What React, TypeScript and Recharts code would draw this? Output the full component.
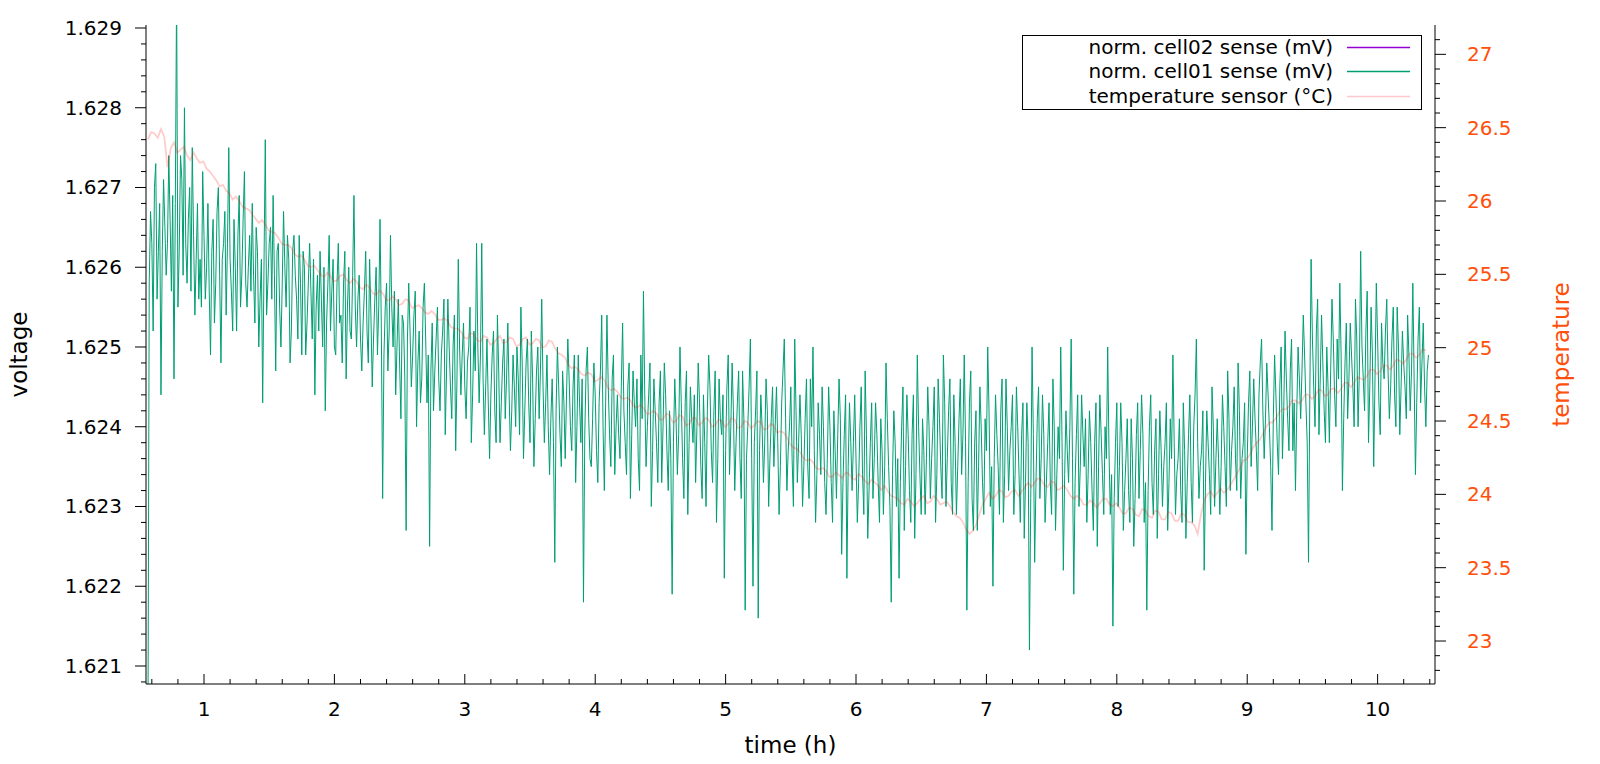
import React from 'react';
import { LineChart, Line, XAxis, YAxis, Legend } from 'recharts';

const FONT = '"DejaVu Sans", Verdana, sans-serif';
const ORANGE = '#ff4f0a';

const CELL02_NAME = 'norm. cell02 sense (mV)';
const CELL01_NAME = 'norm. cell01 sense (mV)';
const TEMP_NAME = 'temperature sensor (°C)';

// [time (h), voltage (V)]
const cell02: [number, number][] = [];

const cell01: [number, number][] = [
  [0.57,1.6200],[0.58,1.6258],[0.59,1.6267],[0.60,1.6263],[0.61,1.6252],[0.62,1.6270],[0.63,1.6273],[0.64,1.6256],[0.65,1.6262],[0.66,1.6268],[0.67,1.6244],[0.68,1.6262],[0.69,1.6271],[0.70,1.6265],[0.71,1.6259],[0.72,1.6263],[0.73,1.6274],[0.74,1.6266],[0.75,1.6257],[0.76,1.6269],
  [0.77,1.6246],[0.78,1.6268],[0.79,1.6295],[0.80,1.6255],[0.81,1.6262],[0.82,1.6274],[0.83,1.6271],[0.84,1.6259],[0.85,1.6280],[0.86,1.6263],[0.87,1.6258],[0.88,1.6266],[0.89,1.6270],[0.90,1.6257],[0.91,1.6275],[0.92,1.6264],[0.93,1.6254],[0.94,1.6261],[0.95,1.6268],[0.96,1.6256],
  [0.97,1.6261],[0.98,1.6255],[0.99,1.6272],[1.00,1.6264],[1.01,1.6256],[1.02,1.6260],[1.03,1.6268],[1.04,1.6257],[1.05,1.6249],[1.06,1.6262],[1.07,1.6266],[1.08,1.6253],[1.09,1.6258],[1.10,1.6267],[1.11,1.6270],[1.12,1.6259],[1.13,1.6248],[1.14,1.6261],[1.15,1.6263],[1.16,1.6267],
  [1.17,1.6254],[1.18,1.6263],[1.19,1.6275],[1.20,1.6261],[1.21,1.6257],[1.22,1.6252],[1.23,1.6266],[1.24,1.6260],[1.25,1.6252],[1.26,1.6264],[1.27,1.6269],[1.28,1.6255],[1.29,1.6259],[1.30,1.6266],[1.31,1.6272],[1.32,1.6258],[1.33,1.6255],[1.34,1.6260],[1.35,1.6264],[1.36,1.6257],
  [1.37,1.6268],[1.38,1.6259],[1.39,1.6253],[1.40,1.6265],[1.41,1.6262],[1.42,1.6250],[1.43,1.6256],[1.44,1.6261],[1.45,1.6243],[1.46,1.6260],[1.47,1.6276],[1.48,1.6254],[1.49,1.6258],[1.50,1.6263],[1.51,1.6265],[1.52,1.6256],[1.53,1.6269],[1.54,1.6259],[1.55,1.6247],[1.56,1.6262],
  [1.57,1.6263],[1.58,1.6255],[1.59,1.6250],[1.60,1.6258],[1.61,1.6267],[1.62,1.6260],[1.63,1.6255],[1.64,1.6264],[1.65,1.6261],[1.66,1.6248],[1.67,1.6252],[1.68,1.6262],[1.69,1.6264],[1.70,1.6259],[1.71,1.6256],[1.72,1.6251],[1.73,1.6264],[1.74,1.6258],[1.75,1.6249],[1.76,1.6262],
  [1.77,1.6260],[1.78,1.6249],[1.79,1.6253],[1.80,1.6258],[1.81,1.6263],[1.82,1.6257],[1.83,1.6251],[1.84,1.6261],[1.85,1.6244],[1.86,1.6255],[1.87,1.6259],[1.88,1.6252],[1.89,1.6262],[1.90,1.6256],[1.91,1.6250],[1.92,1.6260],[1.93,1.6242],[1.94,1.6253],[1.95,1.6258],[1.96,1.6264],
  [1.97,1.6252],[1.98,1.6257],[1.99,1.6261],[2.00,1.6250],[2.01,1.6249],[2.02,1.6258],[2.03,1.6263],[2.04,1.6253],[2.05,1.6254],[2.06,1.6248],[2.07,1.6258],[2.08,1.6262],[2.09,1.6246],[2.10,1.6255],[2.11,1.6260],[2.12,1.6252],[2.13,1.6251],[2.14,1.6259],[2.15,1.6269],[2.16,1.6255],
  [2.17,1.6250],[2.18,1.6256],[2.19,1.6259],[2.20,1.6251],[2.21,1.6247],[2.22,1.6253],[2.23,1.6257],[2.24,1.6262],[2.25,1.6252],[2.26,1.6248],[2.27,1.6261],[2.28,1.6254],[2.29,1.6245],[2.30,1.6251],[2.31,1.6256],[2.32,1.6260],[2.33,1.6249],[2.34,1.6255],[2.35,1.6266],[2.36,1.6252],
  [2.37,1.6231],[2.38,1.6249],[2.39,1.6255],[2.40,1.6258],[2.41,1.6247],[2.42,1.6252],[2.43,1.6264],[2.44,1.6255],[2.45,1.6250],[2.46,1.6257],[2.47,1.6244],[2.48,1.6250],[2.49,1.6256],[2.50,1.6248],[2.51,1.6241],[2.52,1.6254],[2.53,1.6253],[2.54,1.6246],[2.55,1.6227],[2.56,1.6251],
  [2.57,1.6258],[2.58,1.6252],[2.59,1.6245],[2.60,1.6249],[2.61,1.6254],[2.62,1.6257],[2.63,1.6240],[2.64,1.6248],[2.65,1.6252],[2.66,1.6243],[2.67,1.6246],[2.68,1.6255],[2.69,1.6258],[2.70,1.6251],[2.71,1.6243],[2.72,1.6249],[2.73,1.6225],[2.74,1.6247],[2.75,1.6253],[2.76,1.6242],
  [2.77,1.6247],[2.78,1.6251],[2.79,1.6255],[2.80,1.6246],[2.81,1.6242],[2.82,1.6249],[2.83,1.6252],[2.84,1.6256],[2.85,1.6239],[2.86,1.6247],[2.87,1.6256],[2.88,1.6250],[2.89,1.6245],[2.90,1.6241],[2.91,1.6250],[2.92,1.6254],[2.93,1.6237],[2.94,1.6246],[2.95,1.6261],[2.96,1.6250],
  [2.97,1.6244],[2.98,1.6249],[2.99,1.6253],[3.00,1.6245],[3.01,1.6241],[3.02,1.6248],[3.03,1.6250],[3.04,1.6255],[3.05,1.6238],[3.06,1.6244],[3.07,1.6252],[3.08,1.6247],[3.09,1.6263],[3.10,1.6250],[3.11,1.6243],[3.12,1.6249],[3.13,1.6263],[3.14,1.6246],[3.15,1.6239],[3.16,1.6245],
  [3.17,1.6251],[3.18,1.6243],[3.19,1.6236],[3.20,1.6244],[3.21,1.6249],[3.22,1.6252],[3.23,1.6242],[3.24,1.6238],[3.25,1.6254],[3.26,1.6247],[3.27,1.6238],[3.28,1.6243],[3.29,1.6248],[3.30,1.6251],[3.31,1.6241],[3.32,1.6246],[3.33,1.6253],[3.34,1.6244],[3.35,1.6237],[3.36,1.6242],
  [3.37,1.6249],[3.38,1.6245],[3.39,1.6240],[3.40,1.6250],[3.41,1.6246],[3.42,1.6239],[3.43,1.6255],[3.44,1.6248],[3.45,1.6236],[3.46,1.6242],[3.47,1.6248],[3.48,1.6251],[3.49,1.6243],[3.50,1.6238],[3.51,1.6252],[3.52,1.6246],[3.53,1.6235],[3.54,1.6241],[3.55,1.6247],[3.56,1.6250],
  [3.57,1.6241],[3.58,1.6247],[3.59,1.6256],[3.60,1.6245],[3.61,1.6238],[3.62,1.6243],[3.63,1.6249],[3.64,1.6240],[3.65,1.6234],[3.66,1.6241],[3.67,1.6246],[3.68,1.6238],[3.69,1.6223],[3.70,1.6242],[3.71,1.6250],[3.72,1.6245],[3.73,1.6239],[3.74,1.6235],[3.75,1.6247],[3.76,1.6243],
  [3.77,1.6236],[3.78,1.6244],[3.79,1.6251],[3.80,1.6246],[3.81,1.6240],[3.82,1.6237],[3.83,1.6245],[3.84,1.6249],[3.85,1.6233],[3.86,1.6240],[3.87,1.6249],[3.88,1.6243],[3.89,1.6238],[3.90,1.6246],[3.91,1.6218],[3.92,1.6239],[3.93,1.6247],[3.94,1.6250],[3.95,1.6241],[3.96,1.6236],
  [3.97,1.6235],[3.98,1.6241],[3.99,1.6248],[4.00,1.6244],[4.01,1.6237],[4.02,1.6233],[4.03,1.6243],[4.04,1.6247],[4.05,1.6254],[4.06,1.6240],[4.07,1.6232],[4.08,1.6243],[4.09,1.6254],[4.10,1.6245],[4.11,1.6239],[4.12,1.6235],[4.13,1.6246],[4.14,1.6249],[4.15,1.6234],[4.16,1.6240],
  [4.17,1.6244],[4.18,1.6239],[4.19,1.6236],[4.20,1.6245],[4.21,1.6253],[4.22,1.6242],[4.23,1.6238],[4.24,1.6234],[4.25,1.6245],[4.26,1.6248],[4.27,1.6231],[4.28,1.6239],[4.29,1.6247],[4.30,1.6243],[4.31,1.6240],[4.32,1.6246],[4.33,1.6236],[4.34,1.6232],[4.35,1.6249],[4.36,1.6241],
  [4.37,1.6257],[4.38,1.6244],[4.39,1.6235],[4.40,1.6240],[4.41,1.6244],[4.42,1.6248],[4.43,1.6230],[4.44,1.6237],[4.45,1.6246],[4.46,1.6242],[4.47,1.6238],[4.48,1.6233],[4.49,1.6243],[4.50,1.6247],[4.51,1.6233],[4.52,1.6240],[4.53,1.6248],[4.54,1.6244],[4.55,1.6237],[4.56,1.6232],
  [4.57,1.6242],[4.58,1.6236],[4.59,1.6219],[4.60,1.6238],[4.61,1.6246],[4.62,1.6241],[4.63,1.6234],[4.64,1.6239],[4.65,1.6250],[4.66,1.6243],[4.67,1.6236],[4.68,1.6231],[4.69,1.6243],[4.70,1.6247],[4.71,1.6229],[4.72,1.6238],[4.73,1.6245],[4.74,1.6241],[4.75,1.6238],[4.76,1.6244],
  [4.77,1.6233],[4.78,1.6240],[4.79,1.6248],[4.80,1.6243],[4.81,1.6235],[4.82,1.6231],[4.83,1.6244],[4.84,1.6238],[4.85,1.6230],[4.86,1.6242],[4.87,1.6249],[4.88,1.6245],[4.89,1.6237],[4.90,1.6233],[4.91,1.6242],[4.92,1.6247],[4.93,1.6228],[4.94,1.6236],[4.95,1.6246],[4.96,1.6241],
  [4.97,1.6239],[4.98,1.6244],[4.99,1.6221],[5.00,1.6237],[5.01,1.6245],[5.02,1.6249],[5.03,1.6234],[5.04,1.6240],[5.05,1.6248],[5.06,1.6242],[5.07,1.6232],[5.08,1.6238],[5.09,1.6243],[5.10,1.6247],[5.11,1.6236],[5.12,1.6231],[5.13,1.6247],[5.14,1.6241],[5.15,1.6217],[5.16,1.6236],
  [5.17,1.6240],[5.18,1.6245],[5.19,1.6251],[5.20,1.6236],[5.21,1.6220],[5.22,1.6238],[5.23,1.6242],[5.24,1.6247],[5.25,1.6216],[5.26,1.6237],[5.27,1.6244],[5.28,1.6240],[5.29,1.6233],[5.30,1.6238],[5.31,1.6246],[5.32,1.6242],[5.33,1.6230],[5.34,1.6236],[5.35,1.6241],[5.36,1.6245],
  [5.37,1.6235],[5.38,1.6240],[5.39,1.6245],[5.40,1.6238],[5.41,1.6229],[5.42,1.6235],[5.43,1.6243],[5.44,1.6247],[5.45,1.6251],[5.46,1.6241],[5.47,1.6232],[5.48,1.6237],[5.49,1.6240],[5.50,1.6245],[5.51,1.6236],[5.52,1.6230],[5.53,1.6251],[5.54,1.6242],[5.55,1.6233],[5.56,1.6238],
  [5.57,1.6244],[5.58,1.6239],[5.59,1.6230],[5.60,1.6235],[5.61,1.6241],[5.62,1.6246],[5.63,1.6235],[5.64,1.6231],[5.65,1.6246],[5.66,1.6240],[5.67,1.6250],[5.68,1.6237],[5.69,1.6228],[5.70,1.6234],[5.71,1.6243],[5.72,1.6239],[5.73,1.6234],[5.74,1.6245],[5.75,1.6240],[5.76,1.6233],
  [5.77,1.6229],[5.78,1.6236],[5.79,1.6245],[5.80,1.6240],[5.81,1.6233],[5.82,1.6228],[5.83,1.6242],[5.84,1.6237],[5.85,1.6231],[5.86,1.6239],[5.87,1.6246],[5.88,1.6241],[5.89,1.6224],[5.90,1.6233],[5.91,1.6239],[5.92,1.6244],[5.93,1.6221],[5.94,1.6235],[5.95,1.6243],[5.96,1.6238],
  [5.97,1.6232],[5.98,1.6238],[5.99,1.6244],[6.00,1.6236],[6.01,1.6228],[6.02,1.6233],[6.03,1.6240],[6.04,1.6245],[6.05,1.6234],[6.06,1.6229],[6.07,1.6247],[6.08,1.6239],[6.09,1.6226],[6.10,1.6232],[6.11,1.6238],[6.12,1.6243],[6.13,1.6231],[6.14,1.6236],[6.15,1.6243],[6.16,1.6239],
  [6.17,1.6233],[6.18,1.6228],[6.19,1.6241],[6.20,1.6237],[6.21,1.6229],[6.22,1.6235],[6.23,1.6248],[6.24,1.6241],[6.25,1.6235],[6.26,1.6230],[6.27,1.6218],[6.28,1.6234],[6.29,1.6242],[6.30,1.6238],[6.31,1.6230],[6.32,1.6236],[6.33,1.6221],[6.34,1.6233],[6.35,1.6240],[6.36,1.6245],
  [6.37,1.6227],[6.38,1.6235],[6.39,1.6244],[6.40,1.6239],[6.41,1.6232],[6.42,1.6228],[6.43,1.6239],[6.44,1.6244],[6.45,1.6226],[6.46,1.6234],[6.47,1.6249],[6.48,1.6240],[6.49,1.6234],[6.50,1.6229],[6.51,1.6241],[6.52,1.6237],[6.53,1.6229],[6.54,1.6236],[6.55,1.6245],[6.56,1.6240],
  [6.57,1.6231],[6.58,1.6236],[6.59,1.6240],[6.60,1.6245],[6.61,1.6228],[6.62,1.6234],[6.63,1.6246],[6.64,1.6241],[6.65,1.6235],[6.66,1.6231],[6.67,1.6249],[6.68,1.6243],[6.69,1.6230],[6.70,1.6236],[6.71,1.6242],[6.72,1.6246],[6.73,1.6233],[6.74,1.6229],[6.75,1.6244],[6.76,1.6238],
  [6.77,1.6229],[6.78,1.6235],[6.79,1.6241],[6.80,1.6246],[6.81,1.6234],[6.82,1.6239],[6.83,1.6249],[6.84,1.6238],[6.85,1.6217],[6.86,1.6233],[6.87,1.6243],[6.88,1.6247],[6.89,1.6231],[6.90,1.6227],[6.91,1.6238],[6.92,1.6242],[6.93,1.6227],[6.94,1.6235],[6.95,1.6245],[6.96,1.6240],
  [6.97,1.6233],[6.98,1.6229],[6.99,1.6241],[7.00,1.6237],[7.01,1.6250],[7.02,1.6242],[7.03,1.6230],[7.04,1.6235],[7.05,1.6220],[7.06,1.6236],[7.07,1.6244],[7.08,1.6239],[7.09,1.6235],[7.10,1.6229],[7.11,1.6242],[7.12,1.6246],[7.13,1.6228],[7.14,1.6234],[7.15,1.6246],[7.16,1.6240],
  [7.17,1.6232],[7.18,1.6237],[7.19,1.6240],[7.20,1.6244],[7.21,1.6229],[7.22,1.6234],[7.23,1.6245],[7.24,1.6240],[7.25,1.6234],[7.26,1.6228],[7.27,1.6239],[7.28,1.6243],[7.29,1.6226],[7.30,1.6233],[7.31,1.6243],[7.32,1.6238],[7.33,1.6212],[7.34,1.6231],[7.35,1.6250],[7.36,1.6239],
  [7.37,1.6223],[7.38,1.6233],[7.39,1.6241],[7.40,1.6245],[7.41,1.6231],[7.42,1.6236],[7.43,1.6244],[7.44,1.6239],[7.45,1.6228],[7.46,1.6233],[7.47,1.6238],[7.48,1.6243],[7.49,1.6233],[7.50,1.6229],[7.51,1.6246],[7.52,1.6240],[7.53,1.6227],[7.54,1.6234],[7.55,1.6240],[7.56,1.6236],
  [7.57,1.6250],[7.58,1.6238],[7.59,1.6222],[7.60,1.6234],[7.61,1.6242],[7.62,1.6237],[7.63,1.6233],[7.64,1.6240],[7.65,1.6251],[7.66,1.6236],[7.67,1.6219],[7.68,1.6233],[7.69,1.6239],[7.70,1.6244],[7.71,1.6230],[7.72,1.6235],[7.73,1.6244],[7.74,1.6239],[7.75,1.6235],[7.76,1.6241],
  [7.77,1.6228],[7.78,1.6234],[7.79,1.6242],[7.80,1.6238],[7.81,1.6232],[7.82,1.6227],[7.83,1.6238],[7.84,1.6243],[7.85,1.6225],[7.86,1.6235],[7.87,1.6244],[7.88,1.6239],[7.89,1.6234],[7.90,1.6229],[7.91,1.6240],[7.92,1.6236],[7.93,1.6250],[7.94,1.6237],[7.95,1.6229],[7.96,1.6234],
  [7.97,1.6215],[7.98,1.6231],[7.99,1.6238],[8.00,1.6243],[8.01,1.6230],[8.02,1.6235],[8.03,1.6243],[8.04,1.6238],[8.05,1.6227],[8.06,1.6232],[8.07,1.6236],[8.08,1.6241],[8.09,1.6232],[8.10,1.6228],[8.11,1.6241],[8.12,1.6236],[8.13,1.6225],[8.14,1.6231],[8.15,1.6239],[8.16,1.6243],
  [8.17,1.6231],[8.18,1.6237],[8.19,1.6244],[8.20,1.6239],[8.21,1.6228],[8.22,1.6233],[8.23,1.6217],[8.24,1.6232],[8.25,1.6240],[8.26,1.6244],[8.27,1.6233],[8.28,1.6229],[8.29,1.6237],[8.30,1.6241],[8.31,1.6226],[8.32,1.6234],[8.33,1.6242],[8.34,1.6237],[8.35,1.6230],[8.36,1.6235],
  [8.37,1.6238],[8.38,1.6243],[8.39,1.6227],[8.40,1.6233],[8.41,1.6241],[8.42,1.6236],[8.43,1.6249],[8.44,1.6238],[8.45,1.6229],[8.46,1.6234],[8.47,1.6236],[8.48,1.6241],[8.49,1.6232],[8.50,1.6228],[8.51,1.6243],[8.52,1.6237],[8.53,1.6226],[8.54,1.6233],[8.55,1.6239],[8.56,1.6244],
  [8.57,1.6233],[8.58,1.6228],[8.59,1.6240],[8.60,1.6244],[8.61,1.6251],[8.62,1.6238],[8.63,1.6231],[8.64,1.6235],[8.65,1.6237],[8.66,1.6242],[8.67,1.6222],[8.68,1.6233],[8.69,1.6242],[8.70,1.6238],[8.71,1.6234],[8.72,1.6229],[8.73,1.6245],[8.74,1.6240],[8.75,1.6230],[8.76,1.6236],
  [8.77,1.6241],[8.78,1.6236],[8.79,1.6229],[8.80,1.6235],[8.81,1.6244],[8.82,1.6240],[8.83,1.6235],[8.84,1.6230],[8.85,1.6247],[8.86,1.6241],[8.87,1.6232],[8.88,1.6237],[8.89,1.6240],[8.90,1.6245],[8.91,1.6236],[8.92,1.6232],[8.93,1.6248],[8.94,1.6242],[8.95,1.6231],[8.96,1.6236],
  [8.97,1.6238],[8.98,1.6243],[8.99,1.6224],[9.00,1.6236],[9.01,1.6243],[9.02,1.6247],[9.03,1.6235],[9.04,1.6240],[9.05,1.6246],[9.06,1.6241],[9.07,1.6237],[9.08,1.6232],[9.09,1.6244],[9.10,1.6248],[9.11,1.6251],[9.12,1.6242],[9.13,1.6236],[9.14,1.6241],[9.15,1.6248],[9.16,1.6244],
  [9.17,1.6240],[9.18,1.6235],[9.19,1.6227],[9.20,1.6241],[9.21,1.6249],[9.22,1.6244],[9.23,1.6238],[9.24,1.6234],[9.25,1.6245],[9.26,1.6250],[9.27,1.6236],[9.28,1.6242],[9.29,1.6252],[9.30,1.6246],[9.31,1.6241],[9.32,1.6237],[9.33,1.6247],[9.34,1.6251],[9.35,1.6237],[9.36,1.6243],
  [9.37,1.6232],[9.38,1.6242],[9.39,1.6250],[9.40,1.6246],[9.41,1.6241],[9.42,1.6247],[9.43,1.6254],[9.44,1.6249],[9.45,1.6243],[9.46,1.6238],[9.47,1.6223],[9.48,1.6244],[9.49,1.6261],[9.50,1.6251],[9.51,1.6245],[9.52,1.6240],[9.53,1.6252],[9.54,1.6256],[9.55,1.6239],[9.56,1.6246],
  [9.57,1.6254],[9.58,1.6248],[9.59,1.6242],[9.60,1.6238],[9.61,1.6250],[9.62,1.6245],[9.63,1.6238],[9.64,1.6247],[9.65,1.6256],[9.66,1.6251],[9.67,1.6244],[9.68,1.6240],[9.69,1.6251],[9.70,1.6246],[9.71,1.6258],[9.72,1.6249],[9.73,1.6232],[9.74,1.6241],[9.75,1.6248],[9.76,1.6253],
  [9.77,1.6241],[9.78,1.6246],[9.79,1.6253],[9.80,1.6249],[9.81,1.6245],[9.82,1.6240],[9.83,1.6256],[9.84,1.6251],[9.85,1.6240],[9.86,1.6247],[9.87,1.6262],[9.88,1.6250],[9.89,1.6246],[9.90,1.6242],[9.91,1.6252],[9.92,1.6257],[9.93,1.6238],[9.94,1.6245],[9.95,1.6255],[9.96,1.6249],
  [9.97,1.6235],[9.98,1.6246],[9.99,1.6258],[10.00,1.6251],[10.01,1.6243],[10.02,1.6239],[10.03,1.6253],[10.04,1.6248],[10.05,1.6246],[10.06,1.6252],[10.07,1.6256],[10.08,1.6247],[10.09,1.6241],[10.10,1.6245],[10.11,1.6251],[10.12,1.6255],[10.13,1.6244],[10.14,1.6240],[10.15,1.6255],[10.16,1.6250],
  [10.17,1.6239],[10.18,1.6245],[10.19,1.6252],[10.20,1.6248],[10.21,1.6245],[10.22,1.6241],[10.23,1.6254],[10.24,1.6249],[10.25,1.6242],[10.26,1.6247],[10.27,1.6258],[10.28,1.6246],[10.29,1.6234],[10.30,1.6243],[10.31,1.6251],[10.32,1.6255],[10.33,1.6243],[10.34,1.6248],[10.35,1.6253],[10.36,1.6245],
  [10.37,1.6240],[10.38,1.6247],[10.39,1.6249],
];

// [time (h), temperature (°C)]
const temperature: [number, number][] = [
  [0.57,26.42],[0.595,26.47],[0.62,26.46],[0.645,26.43],[0.67,26.49],[0.695,26.44],[0.72,26.23],[0.745,26.36],[0.77,26.40],[0.795,26.33],[0.82,26.35],[0.845,26.37],[0.87,26.31],[0.895,26.28],[0.92,26.33],[0.945,26.29],[0.97,26.26],[0.995,26.27],[1.02,26.22],[1.045,26.20],
  [1.07,26.17],[1.095,26.14],[1.12,26.10],[1.145,26.11],[1.17,26.07],[1.195,26.05],[1.22,26.01],[1.245,26.03],[1.27,26.00],[1.295,25.96],[1.32,25.95],[1.345,25.94],[1.37,25.91],[1.395,25.88],[1.42,25.85],[1.445,25.87],[1.47,25.84],[1.495,25.80],[1.52,25.79],[1.545,25.78],
  [1.57,25.75],[1.595,25.71],[1.62,25.70],[1.645,25.70],[1.67,25.68],[1.695,25.64],[1.72,25.62],[1.745,25.63],[1.77,25.60],[1.795,25.56],[1.82,25.55],[1.845,25.56],[1.87,25.53],[1.895,25.50],[1.92,25.48],[1.945,25.51],[1.97,25.49],[1.995,25.45],[2.02,25.46],[2.045,25.49],
  [2.07,25.50],[2.095,25.46],[2.12,25.44],[2.145,25.47],[2.17,25.45],[2.195,25.41],[2.22,25.40],[2.245,25.43],[2.27,25.41],[2.295,25.37],[2.32,25.36],[2.345,25.39],[2.37,25.37],[2.395,25.33],[2.42,25.32],[2.445,25.35],[2.47,25.33],[2.495,25.29],[2.52,25.30],[2.545,25.33],
  [2.57,25.32],[2.595,25.27],[2.62,25.28],[2.645,25.29],[2.67,25.27],[2.695,25.24],[2.72,25.23],[2.745,25.25],[2.77,25.23],[2.795,25.19],[2.82,25.19],[2.845,25.20],[2.87,25.18],[2.895,25.14],[2.92,25.13],[2.945,25.13],[2.97,25.11],[2.995,25.07],[3.02,25.06],[3.045,25.10],
  [3.07,25.09],[3.095,25.05],[3.12,25.04],[3.145,25.08],[3.17,25.07],[3.195,25.02],[3.22,25.03],[3.245,25.06],[3.27,25.08],[3.295,25.03],[3.32,25.04],[3.345,25.07],[3.37,25.06],[3.395,25.01],[3.42,25.02],[3.445,25.06],[3.47,25.07],[3.495,25.02],[3.52,25.03],[3.545,25.06],
  [3.57,25.05],[3.595,25.00],[3.62,25.01],[3.645,25.05],[3.67,25.04],[3.695,24.99],[3.72,24.96],[3.745,24.95],[3.77,24.93],[3.795,24.88],[3.82,24.86],[3.845,24.87],[3.87,24.85],[3.895,24.82],[3.92,24.81],[3.945,24.83],[3.97,24.82],[3.995,24.77],[4.02,24.78],[4.045,24.80],
  [4.07,24.78],[4.095,24.73],[4.12,24.71],[4.145,24.72],[4.17,24.70],[4.195,24.66],[4.22,24.65],[4.245,24.66],[4.27,24.64],[4.295,24.60],[4.32,24.59],[4.345,24.61],[4.37,24.59],[4.395,24.55],[4.42,24.55],[4.445,24.57],[4.47,24.55],[4.495,24.51],[4.52,24.51],[4.545,24.55],
  [4.57,24.54],[4.595,24.49],[4.62,24.50],[4.645,24.54],[4.67,24.53],[4.695,24.47],[4.72,24.48],[4.745,24.52],[4.77,24.52],[4.795,24.47],[4.82,24.49],[4.845,24.52],[4.87,24.51],[4.895,24.46],[4.92,24.47],[4.945,24.51],[4.97,24.50],[4.995,24.46],[5.02,24.48],[5.045,24.52],
  [5.07,24.51],[5.095,24.45],[5.12,24.46],[5.145,24.50],[5.17,24.49],[5.195,24.45],[5.22,24.47],[5.245,24.50],[5.27,24.49],[5.295,24.44],[5.32,24.45],[5.345,24.48],[5.37,24.47],[5.395,24.42],[5.42,24.43],[5.445,24.42],[5.47,24.39],[5.495,24.34],[5.52,24.32],[5.545,24.31],
  [5.57,24.29],[5.595,24.25],[5.62,24.23],[5.645,24.24],[5.67,24.22],[5.695,24.18],[5.72,24.17],[5.745,24.18],[5.77,24.16],[5.795,24.12],[5.82,24.12],[5.845,24.15],[5.87,24.13],[5.895,24.11],[5.92,24.15],[5.945,24.14],[5.97,24.11],[5.995,24.10],[6.02,24.14],[6.045,24.12],
  [6.07,24.09],[6.095,24.07],[6.12,24.10],[6.145,24.08],[6.17,24.06],[6.195,24.03],[6.22,24.06],[6.245,24.02],[6.27,23.99],[6.295,23.98],[6.32,23.97],[6.345,23.94],[6.37,23.93],[6.395,23.97],[6.42,23.95],[6.445,23.92],[6.47,23.94],[6.495,23.97],[6.52,23.99],[6.545,23.94],
  [6.57,23.95],[6.595,23.99],[6.62,23.97],[6.645,23.93],[6.67,23.94],[6.695,23.95],[6.72,23.92],[6.745,23.88],[6.77,23.85],[6.795,23.84],[6.82,23.81],[6.845,23.76],[6.87,23.73],[6.895,23.75],[6.92,23.79],[6.945,23.86],[6.97,23.93],[6.995,23.97],[7.02,24.01],[7.045,23.97],
  [7.07,23.99],[7.095,24.03],[7.12,24.02],[7.145,23.98],[7.17,23.99],[7.195,24.02],[7.22,24.03],[7.245,23.99],[7.27,24.02],[7.295,24.05],[7.32,24.08],[7.345,24.05],[7.37,24.08],[7.395,24.11],[7.42,24.10],[7.445,24.06],[7.47,24.05],[7.495,24.09],[7.52,24.08],[7.545,24.03],
  [7.57,24.04],[7.595,24.06],[7.62,24.03],[7.645,23.99],[7.67,23.97],[7.695,23.99],[7.72,23.97],[7.745,23.93],[7.77,23.93],[7.795,23.96],[7.82,23.94],[7.845,23.91],[7.87,23.94],[7.895,23.97],[7.92,23.97],[7.945,23.93],[7.97,23.92],[7.995,23.94],[8.02,23.91],[8.045,23.87],
  [8.07,23.87],[8.095,23.91],[8.12,23.90],[8.145,23.86],[8.17,23.85],[8.195,23.90],[8.22,23.89],[8.245,23.85],[8.27,23.84],[8.295,23.89],[8.32,23.88],[8.345,23.83],[8.37,23.83],[8.395,23.88],[8.42,23.87],[8.445,23.82],[8.47,23.82],[8.495,23.87],[8.52,23.86],[8.545,23.81],
  [8.57,23.81],[8.595,23.79],[8.62,23.73],[8.645,23.86],[8.67,23.96],[8.695,24.00],[8.72,24.02],[8.745,23.98],[8.77,24.01],[8.795,24.04],[8.82,24.01],[8.845,24.03],[8.87,24.06],[8.895,24.10],[8.92,24.14],[8.945,24.18],[8.97,24.23],[8.995,24.24],[9.02,24.27],[9.045,24.32],
  [9.07,24.35],[9.095,24.37],[9.12,24.41],[9.145,24.46],[9.17,24.49],[9.195,24.49],[9.22,24.52],[9.245,24.56],[9.27,24.58],[9.295,24.58],[9.32,24.60],[9.345,24.64],[9.37,24.64],[9.395,24.62],[9.42,24.64],[9.445,24.68],[9.47,24.68],[9.495,24.65],[9.52,24.67],[9.545,24.71],
  [9.57,24.71],[9.595,24.67],[9.62,24.68],[9.645,24.72],[9.67,24.72],[9.695,24.69],[9.72,24.72],[9.745,24.76],[9.77,24.76],[9.795,24.73],[9.82,24.76],[9.845,24.80],[9.87,24.79],[9.895,24.78],[9.92,24.81],[9.945,24.85],[9.97,24.85],[9.995,24.82],[10.02,24.84],[10.045,24.88],
  [10.07,24.88],[10.095,24.85],[10.12,24.88],[10.145,24.92],[10.17,24.91],[10.195,24.89],[10.22,24.92],[10.245,24.96],[10.27,24.96],[10.295,24.93],[10.32,24.95],[10.345,24.99],[10.37,24.98],
];

const xMajorTicks = [1, 2, 3, 4, 5, 6, 7, 8, 9, 10];
const xMinorTicks = [0.6, 0.8, 1.2, 1.4, 1.6, 1.8, 2.2, 2.4, 2.6, 2.8, 3.2, 3.4, 3.6, 3.8, 4.2, 4.4, 4.6, 4.8,
  5.2, 5.4, 5.6, 5.8, 6.2, 6.4, 6.6, 6.8, 7.2, 7.4, 7.6, 7.8, 8.2, 8.4, 8.6, 8.8, 9.2, 9.4, 9.6, 9.8, 10.2, 10.4];
const voltMajorTicks = [1.621, 1.622, 1.623, 1.624, 1.625, 1.626, 1.627, 1.628, 1.629];
const voltMinorTicks = [1.6208, 1.6212, 1.6214, 1.6216, 1.6218, 1.6222, 1.6224, 1.6226, 1.6228, 1.6232, 1.6234,
  1.6236, 1.6238, 1.6242, 1.6244, 1.6246, 1.6248, 1.6252, 1.6254, 1.6256, 1.6258, 1.6262, 1.6264, 1.6266, 1.6268,
  1.6272, 1.6274, 1.6276, 1.6278, 1.6282, 1.6284, 1.6286, 1.6288];
const tempMajorTicks = [23, 23.5, 24, 24.5, 25, 25.5, 26, 26.5, 27];
const tempMinorTicks = [22.8, 22.9, 23.1, 23.2, 23.3, 23.4, 23.6, 23.7, 23.8, 23.9, 24.1, 24.2, 24.3, 24.4, 24.6,
  24.7, 24.8, 24.9, 25.1, 25.2, 25.3, 25.4, 25.6, 25.7, 25.8, 25.9, 26.1, 26.2, 26.3, 26.4, 26.6, 26.7, 26.8, 26.9, 27.1];

const X_DOMAIN: [number, number] = [0.5552, 10.44];
const VOLT_DOMAIN: [number, number] = [1.6207743, 1.6290376];
const TEMP_DOMAIN: [number, number] = [22.707, 27.2];

const cell01Data = cell01.map(([t, v]) => ({ t, v }));
const cell02Data = cell02.map(([t, v]) => ({ t, v }));
const tempData = temperature.map(([t, v]) => ({ t, v }));

const allX = [...xMajorTicks, ...xMinorTicks].sort((a, b) => a - b);
const allVolt = [...voltMajorTicks, ...voltMinorTicks].sort((a, b) => a - b);
const allTemp = [...tempMajorTicks, ...tempMinorTicks].sort((a, b) => a - b);

const isMajor = (v: number, list: number[]) => list.some((m) => Math.abs(m - v) < 1e-9);

const BottomTick = (props: any) => {
  const { x, y, payload } = props;
  const major = isMajor(payload.value, xMajorTicks);
  return (
    <g>
      <line x1={x} x2={x} y1={y} y2={y - (major ? 10 : 5)} stroke="#000" strokeWidth={1} />
      {major && (
        <text x={x} y={y + 32} textAnchor="middle" fontFamily={FONT} fontSize={20} fill="#000">
          {payload.value}
        </text>
      )}
    </g>
  );
};

const TopTick = (props: any) => {
  const { x, y, payload } = props;
  const major = isMajor(payload.value, xMajorTicks);
  return <line x1={x} x2={x} y1={y} y2={y + (major ? 10 : 5)} stroke="#000" strokeWidth={1} />;
};

const LeftTick = (props: any) => {
  const { x, y, payload } = props;
  const major = isMajor(payload.value, voltMajorTicks);
  return (
    <g>
      <line x1={x} x2={x - (major ? 11 : 5)} y1={y} y2={y} stroke="#000" strokeWidth={1} />
      {major && (
        <text x={x - 24} y={y + 7} textAnchor="end" fontFamily={FONT} fontSize={20} fill="#000">
          {Number(payload.value).toFixed(3)}
        </text>
      )}
    </g>
  );
};

const RightTick = (props: any) => {
  const { x, y, payload } = props;
  const major = isMajor(payload.value, tempMajorTicks);
  return (
    <g>
      <line x1={x} x2={x + (major ? 11 : 5)} y1={y} y2={y} stroke="#000" strokeWidth={1} />
      {major && (
        <text x={x + 32} y={y + 7} textAnchor="start" fontFamily={FONT} fontSize={20} fill={ORANGE}>
          {String(payload.value)}
        </text>
      )}
    </g>
  );
};

const VoltTitle = () => (
  <text x={27} y={354.5} transform="rotate(-90 27 354.5)" textAnchor="middle" fontFamily={FONT} fontSize={23} fill="#000">
    voltage
  </text>
);

const TempTitle = () => (
  <text x={1569} y={354.5} transform="rotate(-90 1569 354.5)" textAnchor="middle" fontFamily={FONT} fontSize={23} fill={ORANGE}>
    temperature
  </text>
);

const TimeTitle = () => (
  <text x={790.5} y={753} textAnchor="middle" fontFamily={FONT} fontSize={23} fill="#000">
    time (h)
  </text>
);

const LEGEND_ORDER = [CELL02_NAME, CELL01_NAME, TEMP_NAME];
const LEGEND_COLORS: Record<string, string> = {
  [CELL02_NAME]: '#9400d3',
  [CELL01_NAME]: '#009e73',
  [TEMP_NAME]: '#ffc8cc',
};

const LegendBox = (props: any) => {
  const items = [...(props.payload ?? [])].sort(
    (a: any, b: any) => LEGEND_ORDER.indexOf(a.value) - LEGEND_ORDER.indexOf(b.value)
  );
  return (
    <div
      style={{
        position: 'relative',
        width: 400,
        height: 75,
        border: '1px solid #000',
        boxSizing: 'border-box',
        background: '#fff',
        fontFamily: FONT,
        fontSize: 20,
        color: '#000',
      }}
    >
      {items.map((e: any, i: number) => (
        <div
          key={e.value}
          style={{
            position: 'absolute',
            left: 0,
            top: i * 24.5 - 1.5,
            height: 25,
            width: 398,
            display: 'flex',
            alignItems: 'center',
          }}
        >
          <span style={{ width: 310, textAlign: 'right', whiteSpace: 'nowrap', lineHeight: '25px' }}>{e.value}</span>
          <svg width={63} height={3} style={{ marginLeft: 14, display: 'block' }}>
            <line x1={0} x2={63} y1={1.5} y2={1.5} stroke={LEGEND_COLORS[e.value] ?? e.color} strokeWidth={1.3} />
          </svg>
        </div>
      ))}
    </div>
  );
};

export default function App() {
  return (
    <div style={{ position: 'absolute', left: 0, top: 0, width: 1600, height: 764, background: '#fff' }}>
      <LineChart width={1600} height={764} margin={{ top: 25, right: 0, bottom: 0, left: 0 }}>
        <XAxis
          xAxisId="b"
          type="number"
          dataKey="t"
          domain={X_DOMAIN}
          allowDataOverflow
          ticks={allX}
          interval={0}
          height={80}
          tickSize={0}
          tickMargin={0}
          tickLine={false}
          axisLine={{ stroke: '#000', strokeWidth: 1 }}
          tick={BottomTick}
          label={{ content: TimeTitle }}
        />
        <XAxis
          xAxisId="top"
          orientation="top"
          type="number"
          dataKey="t"
          domain={X_DOMAIN}
          allowDataOverflow
          ticks={allX}
          interval={0}
          height={0}
          tickSize={0}
          tickMargin={0}
          tickLine={false}
          axisLine={{ stroke: '#000', strokeWidth: 1 }}
          tick={TopTick}
        />
        <YAxis
          yAxisId="v"
          orientation="left"
          type="number"
          domain={VOLT_DOMAIN}
          allowDataOverflow
          ticks={allVolt}
          interval={0}
          width={146}
          tickSize={0}
          tickMargin={0}
          tickLine={false}
          axisLine={{ stroke: '#000', strokeWidth: 1 }}
          tick={LeftTick}
          label={{ content: VoltTitle }}
        />
        <YAxis
          yAxisId="temp"
          orientation="right"
          type="number"
          domain={TEMP_DOMAIN}
          allowDataOverflow
          ticks={allTemp}
          interval={0}
          width={165}
          tickSize={0}
          tickMargin={0}
          tickLine={false}
          axisLine={{ stroke: '#000', strokeWidth: 1 }}
          tick={RightTick}
          label={{ content: TempTitle }}
        />
        <Legend
          layout="vertical"
          align="center"
          verticalAlign="middle"
          wrapperStyle={{ left: 1022, top: 35, width: 400, height: 75 }}
          content={LegendBox}
        />
        <Line
          xAxisId="b"
          yAxisId="v"
          data={cell02Data}
          dataKey="v"
          name={CELL02_NAME}
          stroke="#9400d3"
          strokeWidth={1}
          dot={false}
          activeDot={false}
          isAnimationActive={false}
        />
        <Line
          xAxisId="b"
          yAxisId="v"
          data={cell01Data}
          dataKey="v"
          name={CELL01_NAME}
          stroke="#009e73"
          strokeWidth={1}
          dot={false}
          activeDot={false}
          isAnimationActive={false}
        />
        <Line
          xAxisId="b"
          yAxisId="temp"
          data={tempData}
          dataKey="v"
          name={TEMP_NAME}
          stroke="rgba(255,0,0,0.2)"
          strokeWidth={1.8}
          dot={false}
          activeDot={false}
          isAnimationActive={false}
        />
      </LineChart>
    </div>
  );
}
